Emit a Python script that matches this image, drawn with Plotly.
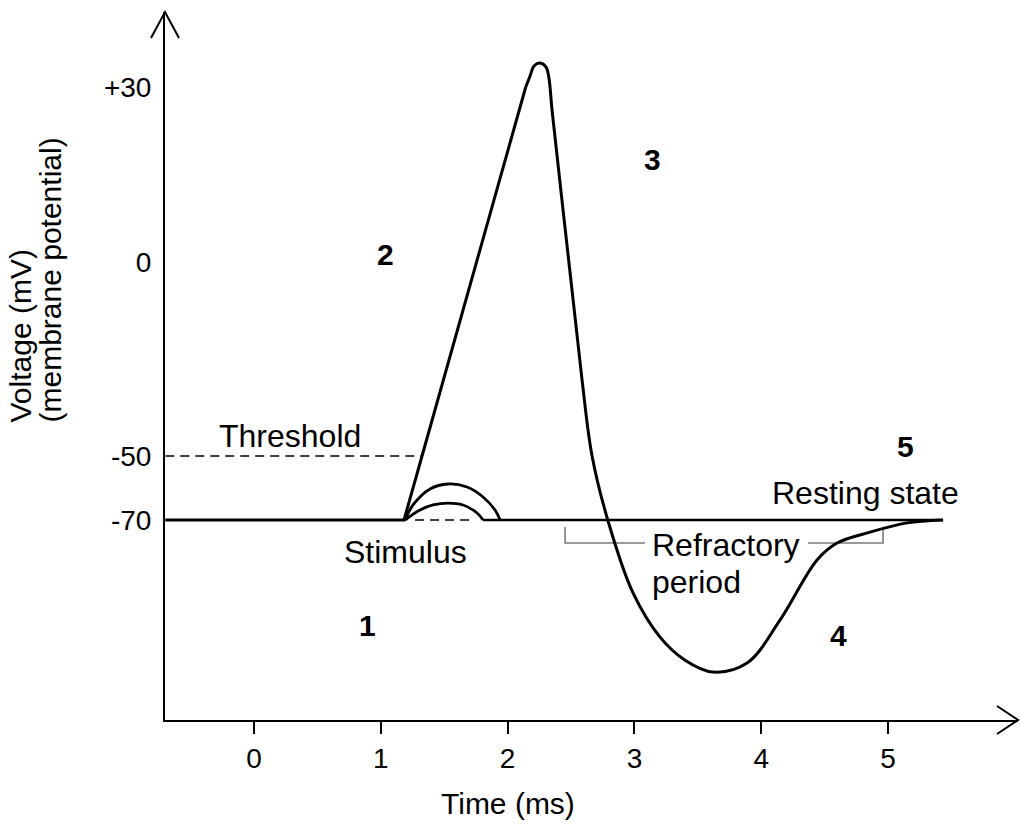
import numpy as np
import plotly.graph_objects as go

# ---------------- data (time in ms, membrane voltage in mV) ----------------
rise_time = [-0.70, 1.183, 1.325, 1.755, 2.143]
rise_mv = [-70, -70, -50, 0, 30]

fall_time = [2.143, 2.177, 2.208, 2.256, 2.303, 2.326, 2.350, 2.483, 2.587, 2.666,
             2.792, 2.989, 3.202, 3.399, 3.620, 3.888, 4.148, 4.440, 4.598, 4.858,
             5.150, 5.434]
fall_mv = [30, 31.9, 33.6, 34.1, 33.4, 31.5, 26.1, 0, -30.4, -50,
           -70.3, -92.8, -106.6, -113.8, -117.5, -114.7, -101.3, -82.5, -77.2, -73.8,
           -70.9, -70]

big_bump_time = [1.191, 1.254, 1.388, 1.530, 1.680, 1.806, 1.901, 1.940]
big_bump_mv = [-70, -65.3, -60.3, -58.75, -59.7, -62.8, -66.9, -70]

small_bump_time = [1.191, 1.309, 1.412, 1.530, 1.648, 1.759, 1.806]
small_bump_mv = [-70, -66.9, -65.3, -64.7, -65.3, -67.8, -70]

rest_time = [1.806, 5.434]
rest_mv = [-70, -70]

threshold_time = [-0.70, 1.325]
threshold_mv = [-50, -50]

stimulus_time = [1.27, 1.727]
stimulus_mv = [-70, -70]

refr_left_time = [2.453, 2.453, 3.084]
refr_left_mv = [-72.2, -77.2, -77.2]
refr_right_time = [4.369, 4.961, 4.961]
refr_right_mv = [-77.2, -77.2, -72.2]

x_ticks = [0, 1, 2, 3, 4, 5]
y_tick_mv = [30, 0, -50, -70]
y_tick_text = ["+30", "0", "-50", "-70"]

# ---------------- layout constants ----------------
W, H = 1020, 826
L, R, T, B = 165, 2, 12, 106
PW, PH = W - L - R, H - T - B
FONT = "Liberation Sans, Arial, sans-serif"

# schematic (piecewise-linear) voltage scale, as in the original diagram
Y_MV = [-70, -50, 0, 30]
Y_POS = [(720 - 520) / PH, (720 - 456) / PH, (720 - 262) / PH, (720 - 87) / PH]


def yscale(v):
    v = np.asarray(v, float)
    lo = (Y_POS[1] - Y_POS[0]) / (Y_MV[1] - Y_MV[0])
    hi = (Y_POS[3] - Y_POS[2]) / (Y_MV[3] - Y_MV[2])
    out = np.interp(v, Y_MV, Y_POS)
    out = np.where(v < Y_MV[0], Y_POS[0] + (v - Y_MV[0]) * lo, out)
    out = np.where(v > Y_MV[-1], Y_POS[-1] + (v - Y_MV[-1]) * hi, out)
    return out


def px(x, y):
    return (x - L) / PW, (H - B - y) / PH


fig = go.Figure()


def add_line(t, mv, width=3, color="black", dash="solid", shape="linear"):
    fig.add_trace(go.Scatter(x=t, y=yscale(mv), mode="lines",
                             line=dict(color=color, width=width, dash=dash, shape=shape,
                                       smoothing=1.0),
                             hoverinfo="skip", showlegend=False))


add_line(threshold_time, threshold_mv, width=1.6, dash="9px,6px")
add_line(stimulus_time, stimulus_mv, width=1.6, dash="9px,6px")
add_line(refr_left_time, refr_left_mv, width=1.6, color="#7a7a7a")
add_line(refr_right_time, refr_right_mv, width=1.6, color="#7a7a7a")
add_line(rest_time, rest_mv, width=2.6)
add_line(big_bump_time, big_bump_mv, width=2.8, shape="spline")
add_line(small_bump_time, small_bump_mv, width=2.8, shape="spline")
add_line(rise_time, rise_mv, width=3)
add_line(fall_time, fall_mv, width=3, shape="spline")

# arrowheads on axes (open chevrons)
shapes = []
tx, ty = px(165, 12)
ax1, ay1 = px(151, 38)
ax2, ay2 = px(179, 38)
shapes.append(dict(type="path", xref="paper", yref="paper",
                   path=f"M {ax1} {ay1} L {tx} {ty} L {ax2} {ay2}",
                   line=dict(color="black", width=2)))
tx, ty = px(1018, 720)
ax1, ay1 = px(997, 706)
ax2, ay2 = px(997, 734)
shapes.append(dict(type="path", xref="paper", yref="paper",
                   path=f"M {ax1} {ay1} L {tx} {ty} L {ax2} {ay2}",
                   line=dict(color="black", width=2)))

annotations = []


def label(text, x, y, size=32, bold=False, xanchor="center", yanchor="middle", angle=0):
    xp, yp = px(x, y)
    annotations.append(dict(text=f"<b>{text}</b>" if bold else text, x=xp, y=yp,
                            xref="paper", yref="paper", showarrow=False,
                            xanchor=xanchor, yanchor=yanchor, textangle=angle,
                            font=dict(family=FONT, size=size, color="black")))


label("Threshold", 290, 436)
label("Stimulus", 405, 552)
label("Resting state", 865, 493)
label("Refractory", 650, 545, xanchor="left")
label("period", 650, 582, xanchor="left")
label("1", 367, 625, size=30, bold=True)
label("2", 385, 255, size=30, bold=True)
label("3", 652, 160, size=30, bold=True)
label("4", 838, 635, size=30, bold=True)
label("5", 905, 447, size=30, bold=True)
label("Time (ms)", 508, 803, size=30)
label("Voltage (mV)", 20, 425, size=30, angle=-90, yanchor="bottom")
label("(membrane potential)", 50, 425, size=30, angle=-90, yanchor="bottom")

fig.update_layout(
    width=W, height=H,
    margin=dict(l=L, r=R, t=T, b=B),
    paper_bgcolor="white", plot_bgcolor="white",
    font=dict(family=FONT, size=28, color="black"),
    shapes=shapes, annotations=annotations,
    xaxis=dict(range=[-0.702, 6.025], showgrid=False, zeroline=False,
               showline=True, linecolor="black", linewidth=2,
               tickmode="array", tickvals=x_ticks, ticks="outside",
               ticklen=12, tickwidth=2, tickcolor="black",
               tickfont=dict(family=FONT, size=28, color="black")),
    yaxis=dict(range=[0, 1], showgrid=False, zeroline=False,
               showline=True, linecolor="black", linewidth=2,
               tickmode="array", tickvals=list(yscale(y_tick_mv)),
               ticktext=y_tick_text, ticks="",
               ticklabelstandoff=6,
               tickfont=dict(family=FONT, size=28, color="black")),
)

fig.write_html(
    "out.html",
    config={"displayModeBar": False},
    post_script="document.body.style.margin='0';"
                "document.documentElement.style.overflow='hidden';",
)
